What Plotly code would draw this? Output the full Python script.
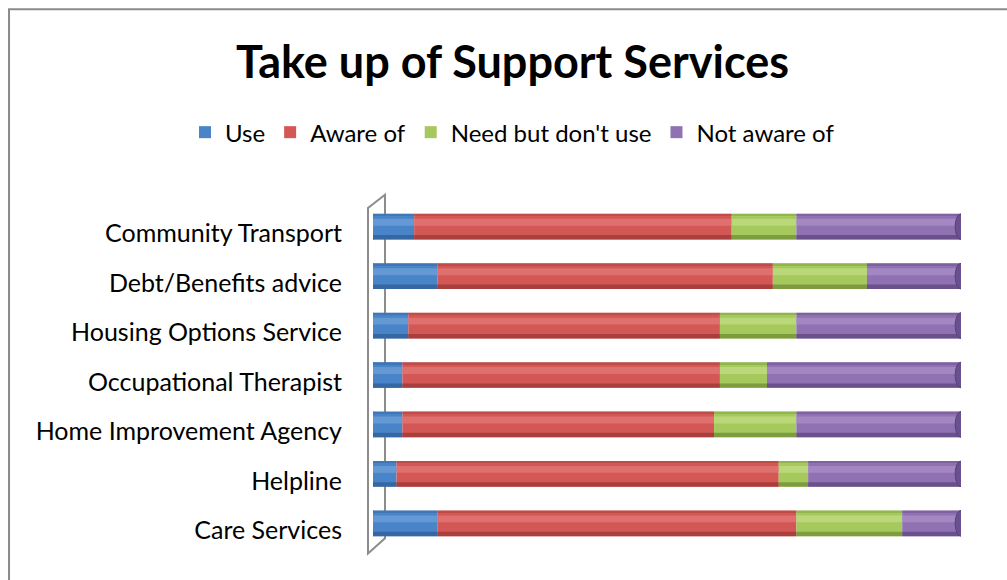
import plotly.graph_objects as go

# Categories listed bottom-to-top
categories = ["Care Services", "Helpline", "Home Improvement Agency",
              "Occupational Therapist", "Housing Options Service",
              "Debt/Benefits advice", "Community Transport"]
use = [11, 4, 5, 5, 6, 11, 7]
aware_of = [61, 65, 53, 54, 53, 57, 54]
need_but_dont_use = [18, 5, 14, 8, 13, 16, 11]
not_aware_of = [10, 26, 28, 33, 28, 16, 28]

series = [
    ("Use", use, "#4a84c8", "#6c9fd8", "#2f5f96"),
    ("Aware of", aware_of, "#d35755", "#e27775", "#9c3835"),
    ("Need but don't use", need_but_dont_use, "#a6c95e", "#bfdc80", "#6f8e35"),
    ("Not aware of", not_aware_of, "#9072b2", "#a88dc6", "#5e4680"),
]

FONT = "Lato"
BW = 0.52

fig = go.Figure()
bases = [0] * len(categories)
shade_traces = []
for name, vals, col, light, dark in series:
    fig.add_trace(go.Bar(
        y=categories, x=vals, base=bases, orientation="h", name=name,
        marker=dict(color=col, line=dict(width=0)), width=BW,
    ))
    shade_traces.append(go.Bar(
        y=categories, x=vals, base=bases, orientation="h", showlegend=False,
        marker=dict(color=light, line=dict(width=0)), width=0.14, offset=0.02,
        hoverinfo="skip", opacity=0.8,
    ))
    shade_traces.append(go.Bar(
        y=categories, x=vals, base=bases, orientation="h", showlegend=False,
        marker=dict(color=dark, line=dict(width=0)), width=0.09, offset=-BW / 2,
        hoverinfo="skip", opacity=0.75,
    ))
    shade_traces.append(go.Bar(
        y=categories, x=vals, base=bases, orientation="h", showlegend=False,
        marker=dict(color=dark, line=dict(width=0)), width=0.04, offset=BW / 2 - 0.04,
        hoverinfo="skip", opacity=0.35,
    ))
    bases = [b + v for b, v in zip(bases, vals)]

for t in shade_traces:
    fig.add_trace(t)

# end caps on the right of each stacked bar
totals = bases
for i, tot in enumerate(totals):
    fig.add_shape(type="circle", xref="x", yref="y",
                  x0=tot - 1.0, x1=tot + 1.0, y0=i - BW / 2, y1=i + BW / 2,
                  fillcolor="#6a5090", line=dict(color="#5a4278", width=1), layer="above")
# rounded start caps
for i in range(len(categories)):
    fig.add_shape(type="circle", xref="x", yref="y",
                  x0=-0.8, x1=0.8, y0=i - BW / 2, y1=i + BW / 2,
                  fillcolor="#4a84c8", line=dict(width=0), layer="below")

# 3D wall outline
fx, bx = -0.0085, 0.0204
fig.add_shape(type="path", xref="paper", yref="paper",
              path=f"M {fx},0.983 L {fx},-0.016 L {bx},0.028 L {bx},1.021 Z",
              line=dict(color="#8c8c8c", width=2), layer="below")
# outer chart frame
fig.add_shape(type="rect", xref="paper", yref="paper",
              x0=-0.619, y0=-1, x1=2, y1=1.557,
              line=dict(color="#8a8a8a", width=2), layer="below")

fig.update_layout(
    width=1007, height=580,
    barmode="overlay",
    margin=dict(l=373, r=46, t=202, b=32),
    paper_bgcolor="white", plot_bgcolor="white",
    font=dict(family=FONT, color="#000000"),
    title=dict(text="<b>Take up of Support Services</b>", x=0.509, xanchor="center",
               y=0.893, yanchor="middle", font=dict(family=FONT, size=45, color="#000000")),
    legend=dict(orientation="h", xref="paper", yref="paper",
                x=(185 - 373) / 588, xanchor="left", y=(547.6 - 133) / 345.3, yanchor="middle",
                font=dict(family=FONT, size=24), traceorder="normal",
                itemwidth=30, tracegroupgap=0),
    showlegend=True,
    xaxis=dict(range=[0, 100], visible=False, fixedrange=True),
    yaxis=dict(categoryorder="array", categoryarray=categories, range=[-0.5, 6.5],
               showline=False, showgrid=False, zeroline=False, ticks="",
               ticklabelstandoff=30, ticklabelshift=7,
               tickfont=dict(family=FONT, size=25, color="#000000")),
)

fig.write_html("out.html", post_script="document.body.style.margin='0';",
               config={"displayModeBar": False})
